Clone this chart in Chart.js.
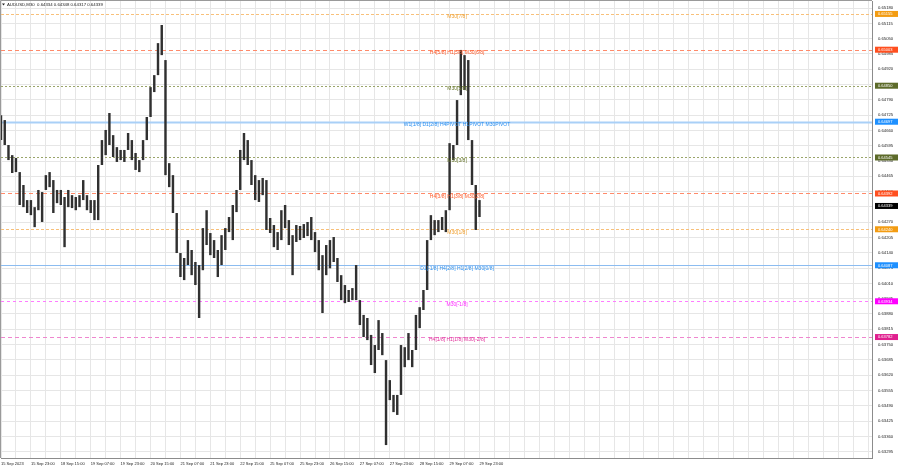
<!DOCTYPE html>
<html><head><meta charset="utf-8">
<script src="https://cdn.jsdelivr.net/npm/chart.js@4.4.1/dist/chart.umd.min.js"></script>
<style>html,body{margin:0;padding:0;background:#fff;overflow:hidden}canvas{display:block}</style>
</head><body>
<canvas id="c" width="900" height="468"></canvas>
<script>
const chartTitle = 'AUDUSD,M30  0.64334 0.64348 0.64317 0.64339';
const tickLabels = ['15 Sep 2023','15 Sep 23:00','18 Sep 15:00','19 Sep 07:00','19 Sep 23:00','20 Sep 15:00','21 Sep 07:00','21 Sep 23:00','22 Sep 15:00','25 Sep 07:00','25 Sep 23:00','26 Sep 15:00','27 Sep 07:00','27 Sep 23:00','28 Sep 15:00','29 Sep 07:00','29 Sep 23:00'];
const yTicks = [0.63295,0.63360,0.63425,0.63490,0.63555,0.63620,0.63685,0.63750,0.63815,0.63880,0.63945,0.64010,0.64075,0.64140,0.64205,0.64270,0.64335,0.64400,0.64465,0.64530,0.64595,0.64660,0.64725,0.64790,0.64855,0.64920,0.64985,0.65050,0.65115,0.65180];
// two-hour high / low ranges
const highs = [0.64725,0.64704,0.64598,0.64555,0.64543,0.64483,0.64428,0.64364,0.64364,0.64334,
0.64407,0.64398,0.64470,0.64483,0.64449,0.64407,0.64407,0.64377,0.64407,0.64385,
0.64377,0.64385,0.64449,0.64385,0.64364,0.64364,0.64513,0.64619,0.64662,0.64734,
0.64640,0.64589,0.64577,0.64577,0.64649,0.64619,0.64564,0.64534,0.64619,0.64717,
0.64844,0.64895,0.65031,0.65108,0.64959,0.64521,0.64470,0.64309,0.64139,0.64118,
0.64194,0.64152,0.64101,0.64088,0.64245,0.64321,0.64224,0.64194,0.64152,0.64215,
0.64245,0.64292,0.64343,0.64407,0.64577,0.64649,0.64619,0.64534,0.64470,0.64449,
0.64458,0.64449,0.64288,0.64258,0.64228,0.64321,0.64343,0.64279,0.64215,0.64258,
0.64254,0.64262,0.64271,0.64292,0.64228,0.64194,0.64130,0.64173,0.64194,0.64207,
0.64118,0.64045,0.64003,0.63982,0.63990,0.64088,0.63939,0.63876,0.63863,0.63791,
0.63748,0.63854,0.63799,0.63684,0.63599,0.63536,0.63536,0.63748,0.63739,0.63799,
0.63727,0.63876,0.63909,0.63982,0.64194,0.64300,0.64279,0.64279,0.64292,0.64321,
0.64606,0.64598,0.64789,0.65002,0.64980,0.64959,0.64619,0.64428,0.64364];
const lows = [0.64619,0.64598,0.64534,0.64479,0.64483,0.64343,0.64334,0.64309,0.64300,0.64249,
0.64321,0.64271,0.64407,0.64419,0.64309,0.64351,0.64343,0.64164,0.64334,0.64330,
0.64321,0.64334,0.64364,0.64321,0.64309,0.64279,0.64279,0.64513,0.64555,0.64598,
0.64547,0.64526,0.64534,0.64526,0.64577,0.64534,0.64492,0.64483,0.64534,0.64619,
0.64717,0.64823,0.64895,0.64980,0.64470,0.64419,0.64309,0.64139,0.64037,0.64024,
0.64088,0.64045,0.64003,0.63863,0.64066,0.64173,0.64130,0.64118,0.64037,0.64088,
0.64152,0.64228,0.64194,0.64313,0.64407,0.64534,0.64513,0.64428,0.64364,0.64356,
0.64385,0.64237,0.64224,0.64164,0.64152,0.64194,0.64245,0.64173,0.64045,0.64186,
0.64194,0.64203,0.64211,0.64194,0.64143,0.64066,0.63884,0.64045,0.64074,0.64101,
0.64016,0.63939,0.63926,0.63931,0.63939,0.63939,0.63833,0.63782,0.63769,0.63663,
0.63629,0.63727,0.63705,0.63323,0.63514,0.63463,0.63451,0.63536,0.63654,0.63684,
0.63654,0.63727,0.63820,0.63897,0.63982,0.64194,0.64215,0.64228,0.64237,0.64228,
0.64321,0.64534,0.64598,0.64810,0.64832,0.64619,0.64428,0.64237,0.64292];
const levelPrices = [0.65155,0.65003,0.64850,0.64697,0.64545,0.64392,0.64240,0.64087,0.63934,0.63782];
const levelNames = ['M30[7/8]','H4[5/8] H1[5/8] M30[6/8]','M30[5/8]','W1[1/8] D1[2/8] H4PIVOT H1PIVOT M30PIVOT','M30[3/8]','H4[3/8] H1[3/8] M30[2/8]','M30[1/8]','D1[-1/8] H4[2/8] H1[2/8] M30[0/8]','M30[-1/8]','H4[1/8] H1[1/8] M30[-2/8]'];
const lastPrice = 0.64339;

// styles
const lineColors = ['#f8c07a','#ff8a6a','#9aa56a','#a9d0f7','#9aa56a','#ff8a6a','#f8c07a','#8cbcf0','#ff7cff','#ef86cf'];
const lineDash = [[3,2],[4,3],[2,2],[],[2,2],[4,3],[3,2],[],[3,3],[4,3]];
const lineWidth = [1,1,1,2,1,1,1,1,1,1];
const textColors = ['#f0a030','#ff5a2a','#66752b','#2a8ff0','#66752b','#ff5a2a','#f0a030','#2a8ff0','#ff2aff','#e0309a'];
const tagColors = ['#f39c12','#ff4f1f','#5d6b2a','#1e90ff','#5d6b2a','#ff4f1f','#f39c12','#1e90ff','#ff00ff','#e0208f'];

const FONT = 'Liberation Sans, Arial, sans-serif';
Chart.defaults.font.family = FONT;

// time categories (2h steps, trading days only)
const months = ['Jan','Feb','Mar','Apr','May','Jun','Jul','Aug','Sep','Oct','Nov','Dec'];
const categories = [];
let t = Date.UTC(2023, 8, 15, 7, 0);
while (categories.length < highs.length) {
  const d = new Date(t);
  const wd = d.getUTCDay();
  if (wd !== 0 && wd !== 6) categories.push(d.getUTCDate() + ' ' + months[d.getUTCMonth()] + ' ' + String(d.getUTCHours()).padStart(2,'0') + ':00');
  t += 2 * 3600 * 1000;
}
const TOTAL_SLOTS = 234; // chart shift: empty space on the right
while (categories.length < TOTAL_SLOTS) categories.push('');
const ranges = lows.map((l, i) => [l, highs[i]]);

const levelsPlugin = {
  id: 'levels',
  beforeDatasetsDraw(chart) {
    const {ctx, chartArea: a, scales: {y}} = chart;
    ctx.save();
    levelPrices.forEach((p, i) => {
      const py = Math.round(y.getPixelForValue(p)) + 0.5;
      ctx.strokeStyle = lineColors[i];
      ctx.lineWidth = lineWidth[i];
      ctx.setLineDash(lineDash[i]);
      ctx.beginPath(); ctx.moveTo(a.left, py); ctx.lineTo(a.right, py); ctx.stroke();
    });
    ctx.restore();
  },
  afterDatasetsDraw(chart) {
    const {ctx, scales: {x, y}} = chart;
    ctx.save();
    ctx.font = '5px ' + FONT;
    ctx.textAlign = 'center';
    ctx.textBaseline = 'top';
    const cx = x.getPixelForValue(122);
    levelPrices.forEach((p, i) => {
      const py = y.getPixelForValue(p);
      ctx.fillStyle = textColors[i];
      ctx.fillText(levelNames[i], cx, py + 0.5);
    });
    ctx.restore();
  },
  afterDraw(chart) {
    const {ctx, chartArea: a, scales: {y}} = chart;
    ctx.save();
    ctx.strokeStyle = '#9a9a9a'; ctx.lineWidth = 1;
    ctx.beginPath(); ctx.moveTo(0.5, a.bottom); ctx.lineTo(0.5, 0.5); ctx.lineTo(a.right, 0.5); ctx.stroke();
    ctx.font = '4px ' + FONT;
    ctx.textBaseline = 'middle'; ctx.textAlign = 'left';
    const tag = (p, col) => {
      const py = y.getPixelForValue(p);
      ctx.fillStyle = col; ctx.fillRect(a.right + 3, py - 3, 23, 6);
      ctx.fillStyle = '#fff'; ctx.fillText(p.toFixed(5), a.right + 6, py + 0.3);
    };
    levelPrices.forEach((p, i) => tag(p, tagColors[i]));
    tag(lastPrice, '#000');
    ctx.fillStyle = '#222';
    ctx.beginPath(); ctx.moveTo(2, 3.5); ctx.lineTo(5, 3.5); ctx.lineTo(3.5, 5.5); ctx.closePath(); ctx.fill();
    ctx.font = '4.3px ' + FONT; ctx.textBaseline = 'middle';
    ctx.fillText(chartTitle, 7, 4.8);
    ctx.restore();
  }
};

new Chart(document.getElementById('c'), {
  type: 'bar',
  data: { labels: categories, datasets: [{ data: ranges, backgroundColor: '#303030', borderWidth: 0, barPercentage: 0.65, categoryPercentage: 1 }] },
  options: {
    responsive: false, animation: false, devicePixelRatio: 1,
    layout: { padding: { left: 1, top: 1, right: 0, bottom: 0 } },
    plugins: { legend: { display: false }, tooltip: { enabled: false } },
    scales: {
      x: {
        offset: false,
        grid: { offset: false, drawTicks: false, color: c => (c.index % 4 === 0 ? '#e6e6e6' : 'rgba(0,0,0,0)') },
        border: { color: '#8c8c8c' },
        ticks: { autoSkip: false, maxRotation: 0, minRotation: 0, align: 'start', padding: 3, color: '#222', font: { size: 4 },
          callback: (v, i) => (i % 8 === 0 && i / 8 < tickLabels.length) ? tickLabels[i / 8] : '' },
        afterFit: s => { s.height = 10; s.paddingLeft = 0; s.paddingRight = 0; }
      },
      y: {
        position: 'right', min: 0.63268, max: 0.65210,
        afterBuildTicks: s => { s.ticks = yTicks.map(v => ({ value: v })); },
        grid: { drawTicks: false, color: '#e6e6e6' },
        border: { color: '#8c8c8c' },
        ticks: { padding: 6, color: '#222', font: { size: 4.2 }, callback: v => Number(v).toFixed(5) },
        afterFit: s => { s.width = 28; s.paddingTop = 0; s.paddingBottom = 0; }
      }
    }
  },
  plugins: [levelsPlugin]
});
</script>
</body></html>
